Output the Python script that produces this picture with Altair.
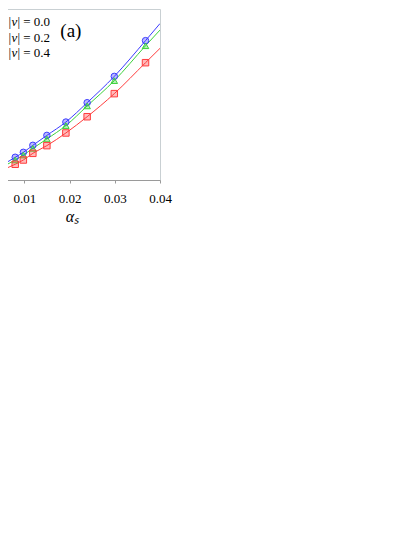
import altair as alt
import pandas as pd

# ---- data ----
series = ["|v| = 0.0", "|v| = 0.2", "|v| = 0.4"]
series_tail = ["| = 0.0", "| = 0.2", "| = 0.4"]
colors = ["#3c3cff", "#3cd23c", "#ff3c3c"]
shapes = ["circle", "triangle-up", "square"]

alpha_pts = [0.0080, 0.0098, 0.0119, 0.0150, 0.0192, 0.0239, 0.0299, 0.0368]
pts_v00 = [0.133, 0.162, 0.203, 0.261, 0.339, 0.452, 0.606, 0.815]
pts_v02 = [0.117, 0.146, 0.185, 0.240, 0.318, 0.433, 0.581, 0.785]
pts_v04 = [0.092, 0.117, 0.156, 0.201, 0.275, 0.370, 0.505, 0.686]

alpha_fit = [0.0045, 0.0080, 0.0098, 0.0119, 0.0150, 0.0192, 0.0239, 0.0299, 0.0368, 0.0400]
fit_v00 = [0.077, 0.133, 0.162, 0.203, 0.261, 0.339, 0.452, 0.606, 0.815, 0.915]
fit_v02 = [0.068, 0.117, 0.146, 0.185, 0.240, 0.318, 0.433, 0.581, 0.785, 0.877]
fit_v04 = [0.052, 0.092, 0.117, 0.156, 0.201, 0.275, 0.370, 0.505, 0.686, 0.770]

x_ticks = [0.01, 0.02, 0.03, 0.04]

legend_alpha = 0.00650
legend_y = [0.925, 0.833, 0.745]
panel_label = "(a)"
panel_alpha = 0.0203
panel_y = 0.871

SERIF = "Times New Roman, Liberation Serif, serif"

# ---- tables ----
pts_df = pd.concat([
    pd.DataFrame({"alpha": alpha_pts, "val": v, "series": s})
    for v, s in zip([pts_v00, pts_v02, pts_v04], series)
])
fit_df = pd.concat([
    pd.DataFrame({"alpha": alpha_fit, "val": v, "series": s})
    for v, s in zip([fit_v00, fit_v02, fit_v04], series)
])
leg_df = pd.DataFrame({"alpha": [legend_alpha] * 3, "val": legend_y,
                       "bar": ["|"] * 3, "v": ["v"] * 3, "tail": series_tail})
lab_df = pd.DataFrame({"alpha": [panel_alpha], "val": [panel_y], "label": [panel_label]})

xscale = alt.Scale(domain=[0, 0.04], nice=False, zero=False)
yscale = alt.Scale(domain=[0, 1], nice=False, zero=False)
cscale = alt.Scale(domain=series, range=colors)
sscale = alt.Scale(domain=series, range=shapes)

x_enc = alt.X("alpha:Q", scale=xscale,
              axis=alt.Axis(values=x_ticks, format=".2f", title="αₛ",
                            labelFlush=False, titleX=93, titleAlign="center"))
y_enc = alt.Y("val:Q", scale=yscale, axis=None)

lines = alt.Chart(fit_df).mark_line(strokeWidth=1, interpolate="monotone", clip=True).encode(
    x=x_enc, y=y_enc,
    color=alt.Color("series:N", scale=cscale, legend=None),
)

points = alt.Chart(pts_df).mark_point(filled=True, fillOpacity=0.35, strokeWidth=1, size=42, clip=True).encode(
    x=x_enc, y=y_enc,
    fill=alt.Fill("series:N", scale=cscale, legend=None),
    stroke=alt.Stroke("series:N", scale=cscale, legend=None),
    shape=alt.Shape("series:N", scale=sscale, legend=None),
)

leg_base = alt.Chart(leg_df)
leg_bar = leg_base.mark_text(
    align="left", baseline="middle", font=SERIF, fontSize=13, color="black"
).encode(x=x_enc, y=y_enc, text="bar:N")
leg_v = leg_base.mark_text(
    align="left", baseline="middle", font=SERIF, fontSize=13, fontStyle="italic",
    color="black", dx=3
).encode(x=x_enc, y=y_enc, text="v:N")
leg_tail = leg_base.mark_text(
    align="left", baseline="middle", font=SERIF, fontSize=13, color="black", dx=9
).encode(x=x_enc, y=y_enc, text="tail:N")

panel_text = alt.Chart(lab_df).mark_text(
    align="center", baseline="middle", font=SERIF, fontSize=19, color="black"
).encode(x=x_enc, y=y_enc, text="label:N")

chart = alt.layer(lines, points, leg_bar, leg_v, leg_tail, panel_text).properties(
    width=181, height=171,
    padding={"left": -29, "top": 1, "right": 20, "bottom": 45},
    autosize=alt.AutoSizeParams(type="none"),
).configure_view(
    stroke="#c9d0d3", strokeWidth=1
).configure_axis(
    grid=False,
    domainColor="#9a9a9a",
    tickColor="#9a9a9a",
    tickSize=3,
    labelFont=SERIF,
    labelFontSize=13,
    labelColor="black",
    labelPadding=9,
    titleFont=SERIF,
    titleFontSize=16,
    titleFontStyle="italic",
    titleFontWeight="normal",
    titleColor="black",
    titlePadding=3,
)

chart.save("out.html", embed_options={"renderer": "svg", "actions": False})
